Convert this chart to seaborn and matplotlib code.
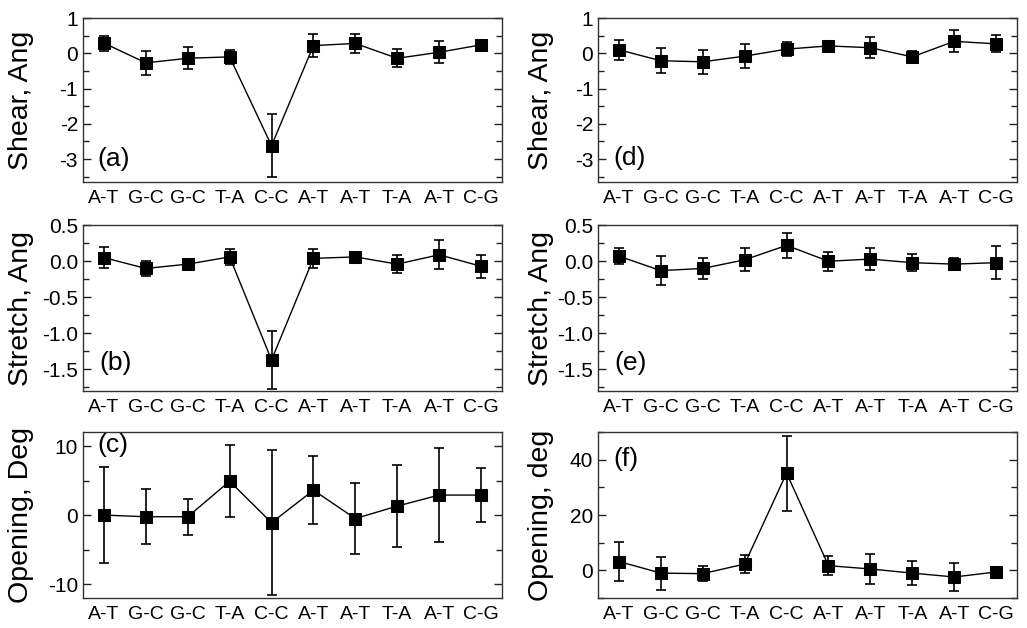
import numpy as np
import pandas as pd
import matplotlib
matplotlib.use("Agg")
import matplotlib.pyplot as plt
import seaborn as sns
from matplotlib.ticker import MultipleLocator, FormatStrFormatter

# base pair sequence along the x axis
pairs = ["A-T", "G-C", "G-C", "T-A", "C-C", "A-T", "A-T", "T-A", "A-T", "C-G"]

# left column
shear_a = [0.29, -0.27, -0.14, -0.10, -2.62, 0.22, 0.28, -0.14, 0.03, 0.24]
shear_a_err = [0.21, 0.34, 0.31, 0.20, 0.90, 0.33, 0.26, 0.25, 0.31, 0.07]
stretch_b = [0.05, -0.10, -0.04, 0.06, -1.37, 0.04, 0.06, -0.04, 0.09, -0.07]
stretch_b_err = [0.15, 0.10, 0.07, 0.11, 0.40, 0.13, 0.05, 0.12, 0.20, 0.16]
opening_c = [0.0, -0.24, -0.24, 4.9, -1.1, 3.6, -0.5, 1.3, 2.9, 2.9]
opening_c_err = [7.0, 4.0, 2.6, 5.2, 10.5, 4.9, 5.2, 5.9, 6.8, 3.9]

# right column
shear_d = [0.10, -0.21, -0.24, -0.08, 0.12, 0.21, 0.16, -0.10, 0.34, 0.27]
shear_d_err = [0.28, 0.35, 0.34, 0.35, 0.20, 0.06, 0.29, 0.16, 0.31, 0.24]
stretch_e = [0.07, -0.13, -0.10, 0.02, 0.22, 0.0, 0.03, -0.02, -0.04, -0.02]
stretch_e_err = [0.11, 0.20, 0.14, 0.16, 0.17, 0.13, 0.15, 0.12, 0.08, 0.23]
opening_f = [3.2, -1.0, -1.2, 2.3, 35.2, 1.7, 0.5, -1.0, -2.4, -0.6]
opening_f_err = [7.0, 6.0, 2.7, 3.4, 13.6, 3.5, 5.4, 4.4, 5.2, 1.0]

sns.set_style("ticks")
plt.rcParams["font.family"] = ["Liberation Sans", "DejaVu Sans"]
plt.rcParams["axes.unicode_minus"] = False
plt.rcParams["text.color"] = "black"
plt.rcParams["axes.labelcolor"] = "black"
plt.rcParams["xtick.color"] = "black"
plt.rcParams["ytick.color"] = "black"

fig = plt.figure(figsize=(10.27, 6.28), dpi=100)

left_x, right_x, w = 0.0808, 0.5823, 0.408
rows = [(0.7102, 0.261), (0.3774, 0.264), (0.0478, 0.264)]

panels = [
    # values, errors, ylabel, tag, ylim, major, minor, fmt, col, row
    (shear_a, shear_a_err, "Shear, Ang", "(a)", (-3.65, 1.0), 1, 0.5, "%d", 0, 0),
    (stretch_b, stretch_b_err, "Stretch, Ang", "(b)", (-1.8, 0.5), 0.5, 0.25, "%.1f", 0, 1),
    (opening_c, opening_c_err, "Opening, Deg", "(c)", (-12, 12), 10, 5, "%d", 0, 2),
    (shear_d, shear_d_err, "Shear, Ang", "(d)", (-3.65, 1.0), 1, 0.5, "%d", 1, 0),
    (stretch_e, stretch_e_err, "Stretch, Ang", "(e)", (-1.8, 0.5), 0.5, 0.25, "%.1f", 1, 1),
    (opening_f, opening_f_err, "Opening, deg", "(f)", (-10, 50), 20, 10, "%d", 1, 2),
]

tag_pos = {"(a)": (0.035, 0.07, "bottom"), "(b)": (0.04, 0.095, "bottom"),
           "(c)": (0.035, 0.995, "top"), "(d)": (0.036, 0.075, "bottom"),
           "(e)": (0.04, 0.095, "bottom"), "(f)": (0.036, 0.91, "top")}

for vals, errs, ylab, tag, ylim, major, minor, fmt, col, row in panels:
    b, h = rows[row]
    ax = fig.add_axes([left_x if col == 0 else right_x, b, w, h])
    df = pd.DataFrame({"pos": np.arange(len(pairs)), "val": vals, "err": errs})
    ax.errorbar(df["pos"], df["val"], yerr=df["err"], fmt="none",
                ecolor="black", elinewidth=1.2, capsize=3.3, capthick=1.2, zorder=2)
    sns.lineplot(data=df, x="pos", y="val", ax=ax, color="black", linewidth=1.0,
                 marker="s", markersize=9, markeredgecolor="black", zorder=3)
    ax.set_xlim(-0.5, len(pairs) - 0.5)
    ax.set_ylim(*ylim)
    ax.set_xticks(df["pos"])
    ax.set_xticklabels(pairs)
    ax.yaxis.set_major_locator(MultipleLocator(major))
    ax.yaxis.set_minor_locator(MultipleLocator(minor))
    ax.yaxis.set_major_formatter(FormatStrFormatter(fmt))
    ax.tick_params(axis="y", which="both", direction="in", left=True, right=True,
                   labelsize=15, color="#222222")
    ax.tick_params(axis="y", which="major", length=6, width=1)
    ax.tick_params(axis="y", which="minor", length=4, width=1)
    ax.tick_params(axis="x", which="both", length=0, labelsize=14, pad=6)
    ax.set_xlabel("")
    ax.set_ylabel(ylab, fontsize=20.5)
    ax.yaxis.set_label_coords(-0.118 if col == 0 else -0.105, 0.5)
    for s in ax.spines.values():
        s.set_visible(True)
        s.set_color("#333333")
        s.set_linewidth(1.0)
    tx, ty, va = tag_pos[tag]
    ax.text(tx, ty, tag, transform=ax.transAxes, fontsize=19, va=va, ha="left")

fig.savefig("out.png", dpi=100)
